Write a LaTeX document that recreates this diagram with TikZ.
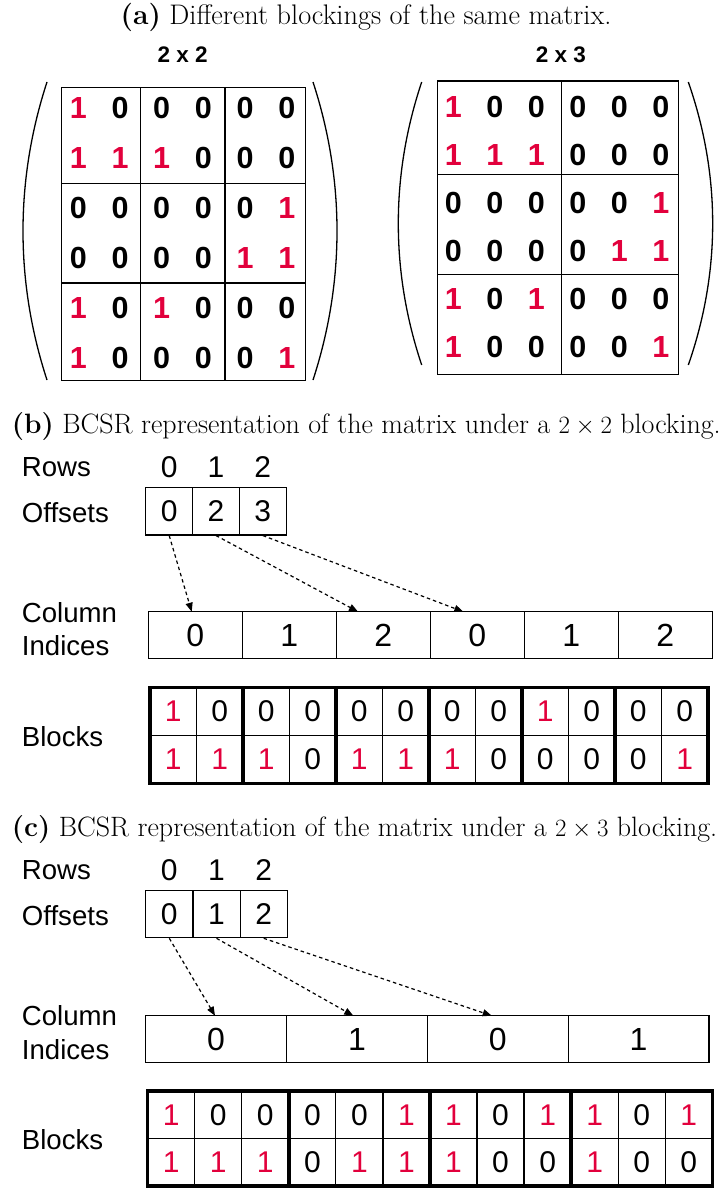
\documentclass[tikz,border=0pt]{standalone}
\usepackage{fontspec}
\newfontfamily\arial{Liberation Sans}
\usetikzlibrary{arrows.meta}
\definecolor{bred}{RGB}{226,0,60}
\begin{document}
\begin{tikzpicture}[x=1pt,y=-1pt,
  captext/.style={font=\fontsize{28.3}{32}\selectfont, inner sep=0, anchor=base},
  captextl/.style={font=\fontsize{28}{32}\selectfont, inner sep=0, anchor=base west},
  mnum/.style={font=\arial\bfseries\fontsize{30.5}{31}\selectfont, inner sep=0},
  mhead/.style={font=\arial\bfseries\fontsize{22.5}{24}\selectfont, inner sep=0},
  lbl/.style={font=\arial\fontsize{27.6}{30}\selectfont, inner sep=0, anchor=west},
  numtext/.style={font=\arial\fontsize{30}{30}\selectfont, inner sep=0},
  cellbox/.style={draw, line width=1.2pt, minimum width=#1, inner sep=0, font=\arial\fontsize{30}{30}\selectfont},
  gridline/.style={line width=1.3pt},
  parenline/.style={line width=1.3pt},
  thickbox/.style={line width=3.5pt},
  darr/.style={dashed, dash pattern=on 3.5pt off 3pt, line width=1.2pt, -{Triangle[length=9pt,width=7pt]}},
  d1/.style={text=bred}, d0/.style={text=black}
]
\useasboundingbox (0,0) rectangle (719,1188);

% ---------- (a) ----------
\node[captext] (capa) at (366,25) {\textbf{(a)} Different blockings of the same matrix.};
\node[mhead] (h22) at (182.7,55) {2 x 2};
\node[mhead] (h23) at (561,55) {2 x 3};

% 2x2 blocking matrix
\draw[gridline] (61.7,87.3) rectangle (305.7,380.7);
\draw[gridline] (140.8,87.3) -- (140.8,380.7);
\draw[gridline] (225,87.3) -- (225,380.7);
\draw[gridline] (61.7,183.5) -- (305.7,183.5);
\draw[gridline] (61.7,283) -- (305.7,283);
\draw[parenline] (47,82) .. controls (15,180) and (15,282) .. (47,380);
\draw[parenline] (313,82) .. controls (345,180) and (345,282) .. (313,380);
\foreach \row [count=\r from 0] in {{1,0,0,0,0,0},{1,1,1,0,0,0},{0,0,0,0,0,1},{0,0,0,0,1,1},{1,0,1,0,0,0},{1,0,0,0,0,1}}{
  \foreach \v [count=\c from 0] in \row {
    \node[mnum,d\v] (a\r\c) at ({78.3+41.7*\c},{108.3+50*\r}) {\v};
  }
}

% 2x3 blocking matrix
\draw[gridline] (437.7,81) rectangle (678.3,374.3);
\draw[gridline] (561.7,81) -- (561.7,374.3);
\draw[gridline] (437.7,174.3) -- (678.3,174.3);
\draw[gridline] (437.7,274.3) -- (678.3,274.3);
\draw[parenline] (421.7,82) .. controls (390.5,175) and (390.5,272) .. (421.7,365);
\draw[parenline] (688.3,82) .. controls (720.8,175) and (720.8,272) .. (688.3,365);
\foreach \row [count=\r from 0] in {{1,0,0,0,0,0},{1,1,1,0,0,0},{0,0,0,0,0,1},{0,0,0,0,1,1},{1,0,1,0,0,0},{1,0,0,0,0,1}}{
  \foreach \v [count=\c from 0] in \row {
    \node[mnum,d\v] (b\r\c) at ({453.3+41.5*\c},{106.7+48*\r}) {\v};
  }
}

% ---------- (b) ----------
\node[captextl] (capb) at (11.7,433) {\textbf{(b)} BCSR representation of the matrix under a $2\times 2$ blocking.};
\node[lbl] (rowsb) at (21.7,466.7) {Rows};
\node[lbl] (offb) at (21.7,512.7) {Offsets};
\node[lbl] (colb) at (21.7,612.7) {Column};
\node[lbl] (indb) at (21.7,646) {Indices};
\node[lbl] (blkb) at (21.7,736.7) {Blocks};
\foreach \v [count=\i from 0] in {0,1,2}{
  \node[numtext] (rb\i) at ({169.2+46.8*\i},466.7) {\v};
}
\foreach \v [count=\i from 0] in {0,2,3}{
  \node[cellbox=46.8pt, minimum height=47.3pt] (ob\i) at ({169.2+46.8*\i},511.3) {\v};
}
\foreach \v [count=\i from 0] in {0,1,2,0,1,2}{
  \node[cellbox=94pt, minimum height=46.6pt, font=\arial\fontsize{32}{32}\selectfont] (cb\i) at ({195.3+94*\i},635) {\v};
}
\coordinate (tb0) at (191.7,611.7);
\coordinate (tb1) at (358,611.7);
\coordinate (tb2) at (463.3,611.7);
\draw[darr] (ob0.south) -- (tb0);
\draw[darr] (ob1.south) -- (tb1);
\draw[darr] (ob2.south) -- (tb2);
\foreach \v [count=\i from 0] in {1,0,0,0,0,0,0,0,1,0,0,0}{
  \node[cellbox=46.5pt, minimum height=47.8pt, d\v] (bt\i) at ({173.25+46.5*\i},711.6) {\v};
}
\foreach \v [count=\i from 0] in {1,1,1,0,1,1,1,0,0,0,0,1}{
  \node[cellbox=46.5pt, minimum height=47.8pt, d\v] (bb\i) at ({173.25+46.5*\i},759.4) {\v};
}
\foreach \k in {0,...,5}{
  \draw[thickbox] ({150+93*\k},687.7) rectangle ({150+93*(\k+1)},783.3);
}

% ---------- (c) ----------
\node[captextl] (capc) at (11.7,836.7) {\textbf{(c)} BCSR representation of the matrix under a $2\times 3$ blocking.};
\node[lbl] (rowsc) at (21.7,870) {Rows};
\node[lbl] (offc) at (21.7,916) {Offsets};
\node[lbl] (colc) at (21.7,1016) {Column};
\node[lbl] (indc) at (21.7,1049.3) {Indices};
\node[lbl] (blkc) at (21.7,1140) {Blocks};
\foreach \v [count=\i from 0] in {0,1,2}{
  \node[numtext] (rc\i) at ({169.3+47.2*\i},870) {\v};
}
\foreach \v [count=\i from 0] in {0,1,2}{
  \node[cellbox=47.2pt, minimum height=47pt] (oc\i) at ({169.3+47.2*\i},914.2) {\v};
}
\foreach \v [count=\i from 0] in {0,1,0,1}{
  \node[cellbox=140.8pt, minimum height=46.6pt, font=\arial\fontsize{32}{32}\selectfont] (cc\i) at ({216.1+140.8*\i},1039) {\v};
}
\coordinate (tc0) at (215,1015.7);
\coordinate (tc1) at (353.3,1015.7);
\coordinate (tc2) at (491.7,1015.7);
\draw[darr] (oc0.south) -- (tc0);
\draw[darr] (oc1.south) -- (tc1);
\draw[darr] (oc2.south) -- (tc2);
\foreach \v [count=\i from 0] in {1,0,0,0,0,1,1,0,1,1,0,1}{
  \node[cellbox=47.05pt, minimum height=47.5pt, d\v] (ct\i) at ({171.2+47.05*\i},1114.75) {\v};
}
\foreach \v [count=\i from 0] in {1,1,1,0,1,1,1,0,0,1,0,0}{
  \node[cellbox=47.05pt, minimum height=47.5pt, d\v] (cbb\i) at ({171.2+47.05*\i},1162.25) {\v};
}
\foreach \k in {0,...,3}{
  \draw[thickbox] ({147.7+141.15*\k},1091) rectangle ({147.7+141.15*(\k+1)},1186);
}
\end{tikzpicture}
\end{document}
